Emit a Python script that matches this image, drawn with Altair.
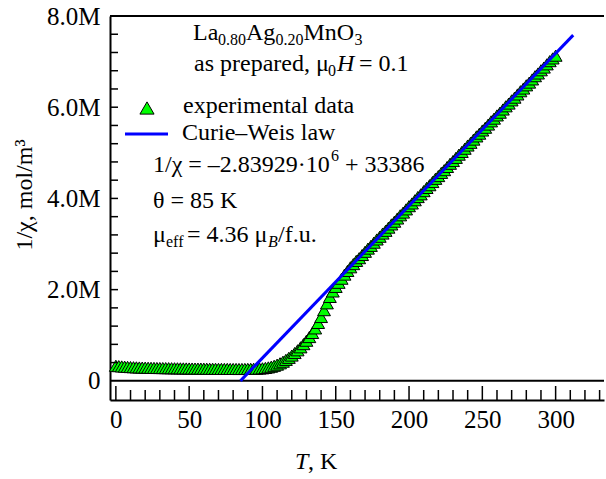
import altair as alt
import pandas as pd

# ---------------- data ----------------
T = [0, 2, 4, 6, 8, 10, 12, 14, 16, 18, 20, 22, 24, 26, 28, 30, 32, 34, 36, 38,
     40, 42, 44, 46, 48, 50, 52, 54, 56, 58, 60, 62, 64, 66, 68, 70, 72, 74, 76, 78,
     80, 82, 84, 86, 88, 90, 92, 94, 96, 98, 100, 102, 104, 106, 108, 110, 112, 114, 116, 118,
     120, 122, 124, 126, 128, 130, 132, 134, 136, 138, 140, 142, 144, 146, 148, 150, 152, 154, 156, 158,
     160, 162, 164, 166, 168, 170, 172, 174, 176, 178, 180, 182, 184, 186, 188, 190, 192, 194, 196, 198,
     200, 202, 204, 206, 208, 210, 212, 214, 216, 218, 220, 222, 224, 226, 228, 230, 232, 234, 236, 238,
     240, 242, 244, 246, 248, 250, 252, 254, 256, 258, 260, 262, 264, 266, 268, 270, 272, 274, 276, 278,
     280, 282, 284, 286, 288, 290, 292, 294, 296, 298, 300]
# 1/chi in units of 10^6 mol/m^3
inv_chi = [0.330, 0.322, 0.316, 0.311, 0.306, 0.302, 0.299, 0.296, 0.293, 0.291,
           0.289, 0.287, 0.285, 0.284, 0.282, 0.281, 0.280, 0.279, 0.278, 0.277,
           0.276, 0.275, 0.274, 0.273, 0.272, 0.271, 0.270, 0.269, 0.268, 0.268,
           0.267, 0.266, 0.265, 0.265, 0.264, 0.263, 0.263, 0.262, 0.262, 0.261,
           0.261, 0.261, 0.260, 0.261, 0.261, 0.262, 0.263, 0.265, 0.267, 0.270,
           0.275, 0.283, 0.295, 0.310, 0.330, 0.355, 0.385, 0.420, 0.460, 0.505,
           0.555, 0.610, 0.670, 0.735, 0.805, 0.880, 0.960, 1.050, 1.150, 1.270,
           1.400, 1.550, 1.700, 1.840, 1.960, 2.060, 2.150, 2.240, 2.330, 2.410,
           2.490, 2.560, 2.630, 2.690, 2.760, 2.830, 2.900, 2.960, 3.030, 3.100,
           3.160, 3.230, 3.290, 3.360, 3.430, 3.490, 3.560, 3.630, 3.690, 3.760,
           3.830, 3.890, 3.960, 4.030, 4.090, 4.160, 4.230, 4.290, 4.360, 4.430,
           4.490, 4.560, 4.620, 4.690, 4.760, 4.820, 4.890, 4.960, 5.020, 5.090,
           5.160, 5.220, 5.290, 5.360, 5.420, 5.490, 5.550, 5.620, 5.690, 5.750,
           5.820, 5.880, 5.950, 6.020, 6.080, 6.150, 6.210, 6.280, 6.350, 6.410,
           6.480, 6.540, 6.610, 6.680, 6.740, 6.810, 6.870, 6.940, 7.010, 7.070,
           7.130]
cw_T = [85, 312]
cw_val = [0.0, 7.58]
x_major = [0, 50, 100, 150, 200, 250, 300]
x_minor = [10, 20, 30, 40, 60, 70, 80, 90, 110, 120, 130, 140, 160, 170, 180, 190,
           210, 220, 230, 240, 260, 270, 280, 290, 310, 320, 330]
y_ticks = [0.4, 0.8, 1.2, 1.6, 2.0, 2.4, 2.8, 3.2, 3.6, 4.0, 4.4, 4.8, 5.2, 5.6,
           6.0, 6.4, 6.8, 7.2, 7.6, 8.0]
y_labels = [0, 2, 4, 6, 8]

# ---------------- layout ----------------
W, H = 494, 384
LEFT, TOP = 110, 16
FONT = "Liberation Serif"
GREEN = "#00ff00"
BLUE = "#0000ff"

xs = alt.Scale(domain=[-4, 333], nice=False, zero=False)
ys = alt.Scale(domain=[-0.42, 8.0], nice=False, zero=False)

x_axis = alt.Axis(
    values=x_major, ticks=False, domain=True, domainColor="black", domainWidth=2,
    labelFont=FONT, labelFontSize=25, labelColor="black", labelPadding=7,
    labelFlush=False, grid=False, title=None)
y_axis = alt.Axis(
    values=y_labels, ticks=False, domain=True, domainColor="black", domainWidth=2,
    labelFont=FONT, labelFontSize=25, labelColor="black", labelPadding=10,
    labelFlush=False, grid=False, title=None,
    labelExpr="datum.value == 0 ? '0' : format(datum.value, '.1f') + 'M'")

df = pd.DataFrame({"T": T, "v": inv_chi})
cw = pd.DataFrame({"T": cw_T, "v": cw_val})
one = pd.DataFrame({"d": [0]})

points = alt.Chart(df).mark_point(
    shape="triangle-up", filled=True, color=GREEN, stroke="black",
    strokeWidth=1, size=165, opacity=1
).encode(
    x=alt.X("T:Q", scale=xs, axis=x_axis),
    y=alt.Y("v:Q", scale=ys, axis=y_axis),
)

line = alt.Chart(cw).mark_line(color=BLUE, strokeWidth=3).encode(
    x=alt.X("T:Q", scale=xs, axis=x_axis),
    y=alt.Y("v:Q", scale=ys, axis=y_axis),
)

zero = alt.Chart(pd.DataFrame({"v": [0]})).mark_rule(color="black", strokeWidth=2).encode(
    y=alt.Y("v:Q", scale=ys, axis=y_axis), x=alt.value(0), x2=alt.value(W))

top = alt.Chart(one).mark_rule(color="black", strokeWidth=2).encode(
    y=alt.value(0), x=alt.value(0), x2=alt.value(W))

xmaj = alt.Chart(pd.DataFrame({"T": x_major})).mark_rule(color="black", strokeWidth=1.5).encode(
    x=alt.X("T:Q", scale=xs, axis=x_axis), y=alt.value(H - 14), y2=alt.value(H))
xmin = alt.Chart(pd.DataFrame({"T": x_minor})).mark_rule(color="black", strokeWidth=1.5).encode(
    x=alt.X("T:Q", scale=xs, axis=x_axis), y=alt.value(H - 10), y2=alt.value(H))
ytk = alt.Chart(pd.DataFrame({"v": y_ticks})).mark_rule(color="black", strokeWidth=1.5).encode(
    y=alt.Y("v:Q", scale=ys, axis=y_axis), x=alt.value(0), x2=alt.value(8))


def txt(s, X, Y, size=24, style="normal", angle=0, align="left", baseline="alphabetic"):
    return alt.Chart(one).mark_text(
        text=s, font=FONT, fontSize=size, fontStyle=style, align=align,
        baseline=baseline, color="black", angle=angle
    ).encode(x=alt.value(X - LEFT), y=alt.value(Y - TOP))


SUB = 16
texts = [
    # La0.80Ag0.20MnO3
    txt("La", 193, 40), txt("0.80", 218, 45, SUB), txt("Ag", 246, 40),
    txt("0.20", 275.5, 45, SUB), txt("MnO", 303.5, 40), txt("3", 354.5, 45, SUB),
    # as prepared, mu0 H = 0.1
    txt("as prepared, \u03bc", 194, 71), txt("0", 328, 76, SUB),
    txt("H", 337, 71, style="italic"), txt("= 0.1", 359, 71),
    # legend
    txt("experimental data", 183, 113),
    txt("Curie\u2013Weis law", 182, 140),
    # fit
    txt("1/\u03c7 = \u20132.83929\u00b710", 153, 172), txt("6", 331, 161, SUB),
    txt("+ 33386", 345, 172),
    txt("\u03b8 = 85 K", 153, 208),
    txt("\u03bc", 153, 242), txt("eff", 166, 247, SUB), txt("= 4.36 \u03bc", 187, 242),
    txt("B", 268, 247, SUB, style="italic"), txt("/f.u.", 278, 242),
    # axis titles
    txt("T", 295, 469, style="italic"), txt(", K", 308, 469),
    txt("1/\u03c7, mol/m\u00b3", 25, 195, angle=270, align="center", baseline="middle"),
]

leg_tri = alt.Chart(one).mark_point(
    shape="triangle-up", filled=True, color=GREEN, stroke="black",
    strokeWidth=1, size=200, opacity=1
).encode(x=alt.value(147 - LEFT), y=alt.value(108 - TOP))
leg_line = alt.Chart(one).mark_rule(color=BLUE, strokeWidth=3).encode(
    x=alt.value(125 - LEFT), x2=alt.value(168 - LEFT), y=alt.value(134 - TOP))

chart = alt.layer(
    points, zero, top, xmaj, xmin, ytk, line, leg_tri, leg_line, *texts
).properties(
    width=W, height=H,
    padding={"left": LEFT, "top": TOP, "right": 606 - LEFT - W, "bottom": 479 - TOP - H},
    autosize=alt.AutoSizeParams(type="none"),
).configure_view(stroke=None)

chart.save("out.html", embed_options={"renderer": "svg", "actions": False})
